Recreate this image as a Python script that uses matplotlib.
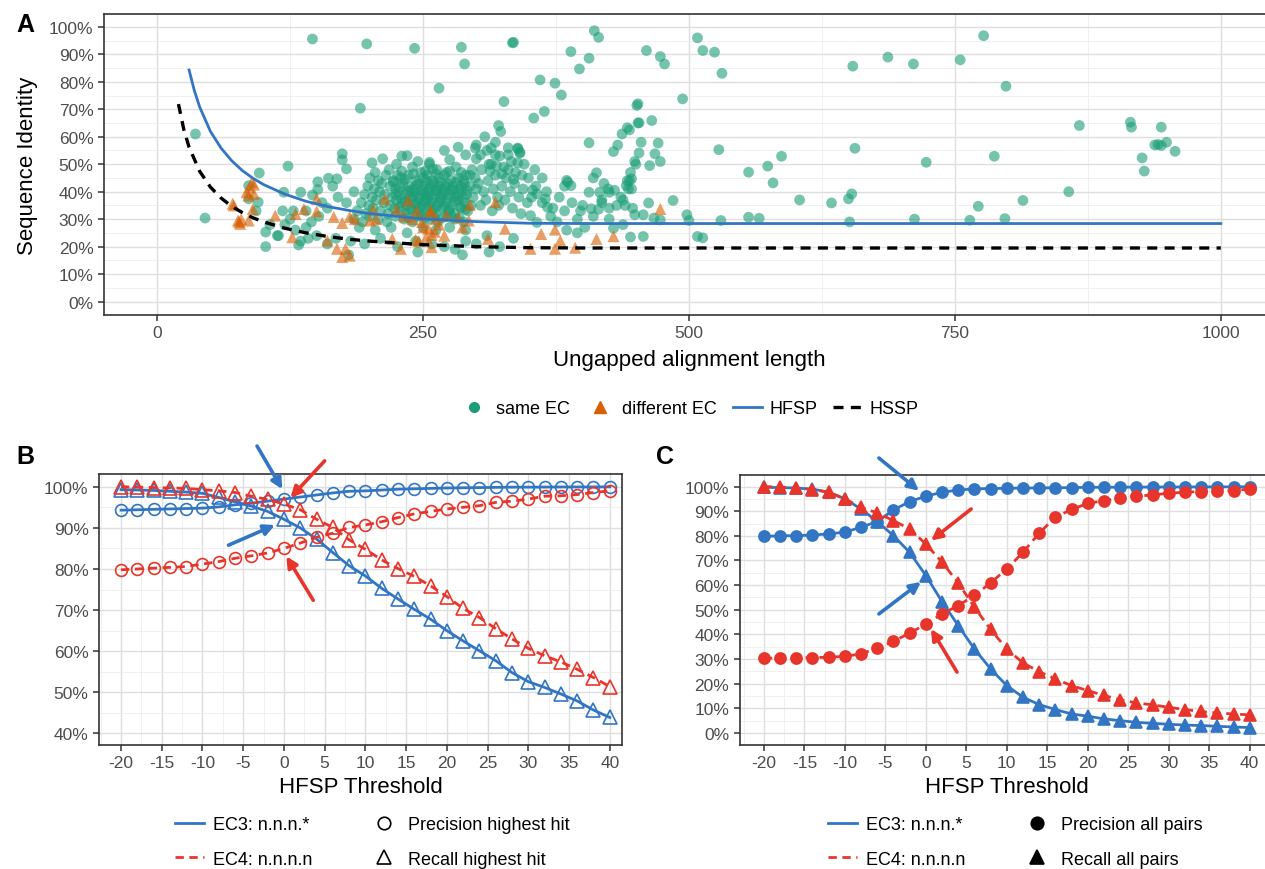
import matplotlib
matplotlib.use("Agg")
import matplotlib.pyplot as plt
from matplotlib.lines import Line2D
from matplotlib.ticker import FuncFormatter, MultipleLocator

plt.rcParams['font.family'] = ['Liberation Sans', 'DejaVu Sans']
plt.rcParams['axes.unicode_minus'] = False

# ---------------- panel A data ----------------
# pairs with the same EC number (alignment length, % identity)
same_ec = [
    # sparse high identity
    (146, 95.6), (197, 93.8), (242, 92.2), (286, 92.6), (289, 86.5), (334, 94.2), (335, 94.4),
    (191, 70.4), (265, 77.7), (326, 72.8), (321, 64.1), (323, 61.9), (354, 66.8), (364, 69.2),
    (360, 80.7), (374, 79.5), (380, 75.2), (389, 91.0), (397, 84.7), (406, 88.6), (411, 98.6),
    (415, 96.2), (406, 57.8), (235, 53.1), (202, 50.5), (283, 56.2), (385, 44.1), (389, 42.2),
    (508, 96.0), (513, 91.4), (524, 90.8), (531, 83.1), (460, 91.4), (473, 89.2), (477, 86.5),
    (494, 73.8), (451, 71.4), (453, 65.1), (465, 65.9), (442, 63.3), (444, 62.5), (471, 57.7),
    (453, 54.1), (468, 53.8), (473, 51.0), (463, 49.5), (449, 51.0), (450, 50.0), (445, 47.0),
    (442, 44.0), (446, 41.0),
    # long alignments
    (528, 55.3), (556, 47.1), (574, 49.3), (579, 43.2), (587, 52.9), (604, 37.0), (634, 35.9),
    (650, 37.4), (653, 39.2), (656, 55.8), (654, 85.7), (687, 89.0), (711, 86.5), (723, 50.7),
    (755, 88.0), (777, 96.8), (798, 78.4), (787, 52.9), (772, 34.7), (814, 36.8), (857, 40.0),
    (867, 64.1), (915, 65.3), (916, 63.5), (944, 63.5), (938, 57.0), (941, 57.2), (944, 56.8),
    (949, 58.0), (957, 54.7), (926, 52.3), (928, 47.5),
    (449, 31.6), (457, 31.6), (467, 30.4), (473, 29.7), (498, 31.6), (500, 29.5), (530, 29.5),
    (556, 30.7), (566, 30.3), (651, 29.0), (712, 30.0), (764, 29.6), (797, 30.2), (457, 23.7),
    (508, 23.7), (513, 23.2), (462, 35.9), (485, 36.8), (438, 37.0), (440, 35.0), (443, 41.0),
    (444, 44.0),
    # 340-450 region
    (413, 46.9), (429, 54.6), (406, 39.8), (416, 39.8), (425, 39.8), (408, 33.8), (415, 33.6),
    (425, 34.0), (441, 42.2), (446, 44.7), (452, 72.0), (452, 65.0), (386, 43.5), (400, 35.0),
    (398, 33.0), (429, 26.7), (445, 23.5), (385, 26.0), (341, 54.4), (339, 55.6), (353, 40.6),
    (357, 39.2), (365, 37.4), (367, 34.3), (351, 31.3), (357, 28.8), (430, 40.5), (436, 38.0),
    (420, 43.0), (433, 57.0), (437, 61.0), (455, 58.0), (418, 36.0), (410, 45.0), (447, 34.0),
    (355, 48.0), (362, 45.0), (370, 31.0), (376, 29.0), (383, 42.0), (390, 36.0), (395, 30.0),
    (402, 27.0), (410, 31.0), (418, 37.0), (424, 41.0), (432, 35.0), (438, 28.0), (383, 33.0),
    (395, 25.0), (425, 30.0),
    # short alignments
    (36, 61.0), (45, 30.4), (96, 46.8), (123, 49.3), (102, 25.3), (102, 20.0), (114, 24.0),
    (86, 37.4), (95, 36.2), (119, 39.8), (133, 20.6), (146, 38.8), (151, 43.6), (151, 40.8),
    (161, 44.9), (169, 44.7), (174, 53.8), (174, 51.6), (178, 48.3), (135, 39.8), (86, 42.2),
    (142, 23.0), (113, 24.0), (165, 42.0), (170, 38.0), (178, 36.0), (185, 40.0), (160, 34.0),
    (152, 31.0), (145, 29.0), (140, 27.0), (130, 26.0), (125, 30.0), (118, 33.0), (106, 28.0),
    (135, 22.0), (150, 24.0), (160, 21.0), (168, 23.0), (93, 33.0), (120, 28.0), (128, 33.0),
    (140, 33.0), (155, 36.0),
    # upper edge of main cluster
    (275, 51.7), (256, 50.7), (259, 48.3), (299, 55.9), (314, 55.9), (339, 55.9), (290, 53.4),
    (304, 53.4), (318, 53.4), (330, 53.4), (230, 53.0), (212, 52.0), (270, 55.0), (225, 50.0),
    (245, 51.0), (318, 58.0), (312, 50.0), (308, 60.0), (300, 57.0),
    # main cluster
    (205, 47), (218, 48), (226, 46), (240, 49), (248, 47), (256, 50), (263, 48), (272, 47),
    (281, 49), (290, 46), (296, 48),
    (200, 45), (208, 44), (215, 46), (222, 44), (229, 45), (236, 46), (243, 44), (250, 45),
    (254, 46), (259, 44), (265, 45), (270, 46), (276, 44), (283, 45), (288, 44), (294, 46), (299, 45),
    (198, 42), (204, 41), (211, 43), (219, 42), (224, 41), (231, 43), (236, 42), (241, 41),
    (246, 43), (251, 42), (255, 41), (260, 43), (264, 42), (268, 41), (273, 43), (278, 42),
    (284, 41), (289, 43), (294, 42), (300, 41),
    (195, 39), (202, 38), (209, 40), (214, 39), (221, 38), (227, 40), (233, 39), (238, 38),
    (242, 40), (247, 39), (252, 38), (256, 40), (261, 39), (266, 38), (270, 40), (275, 39),
    (280, 38), (286, 40), (291, 39), (297, 38),
    (192, 36), (199, 35), (206, 37), (213, 36), (219, 35), (225, 37), (230, 36), (235, 35),
    (240, 37), (245, 36), (249, 35), (254, 37), (258, 36), (263, 35), (267, 37), (272, 36),
    (277, 35), (283, 37), (289, 36), (295, 35),
    (188, 33), (196, 32), (203, 34), (210, 33), (217, 32), (223, 34), (229, 33), (234, 32),
    (239, 34), (244, 33), (249, 32), (253, 34), (258, 33), (262, 32), (268, 34), (274, 33),
    (280, 32), (286, 34), (292, 33),
    (185, 30), (193, 29), (200, 31), (208, 30), (216, 29), (224, 31), (232, 30), (240, 29),
    (248, 31), (256, 30), (264, 29), (272, 31), (280, 30), (288, 29),
    (190, 27), (205, 26), (220, 27), (235, 25), (250, 27), (262, 26), (275, 27), (290, 26),
    (182, 22), (195, 21), (210, 23), (226, 20), (243, 22), (258, 21), (270, 20), (280, 19),
    (290, 22), (300, 21), (310, 24), (322, 20), (335, 23), (180, 17), (245, 18), (287, 17), (312, 18),
    # dense core of the main cluster
    (222, 43.5), (228, 41.5), (233, 44.5), (238, 40.5), (244, 42.5), (249, 40.5), (253, 44.0),
    (257, 42.5), (262, 40.5), (267, 43.5), (271, 42.0), (276, 40.5), (281, 43.5), (286, 42.0),
    (291, 40.5), (224, 39.0), (230, 37.5), (236, 40.0), (241, 38.5), (246, 37.5), (251, 39.5),
    (255, 38.5), (259, 37.5), (263, 40.5), (268, 39.0), (273, 37.5), (278, 40.5), (283, 38.5),
    (288, 37.5), (228, 34.5), (233, 36.5), (238, 33.5), (243, 35.5), (247, 34.0), (252, 36.5),
    (256, 34.5), (260, 33.5), (265, 36.0), (270, 34.5), (275, 33.5), (280, 36.5), (285, 34.5),
    (290, 33.5), (236, 30.5), (244, 31.0), (252, 30.5), (260, 31.0), (268, 30.5), (276, 31.5),
    (284, 30.5), (241, 46.5), (252, 47.5), (262, 46.5), (275, 47.5), (286, 47.0), (230, 47.5),
    # second cluster
    (300, 52), (305, 48), (310, 55), (314, 50), (318, 46), (322, 53), (326, 49), (330, 56),
    (333, 51), (337, 47), (341, 54), (345, 50), (349, 45),
    (302, 43), (307, 40), (311, 44), (316, 41), (320, 38), (324, 42), (328, 45), (332, 40),
    (336, 43), (340, 38), (344, 41), (348, 36),
    (304, 35), (309, 37), (315, 33), (321, 35), (327, 37), (334, 34), (342, 32), (352, 38),
    (356, 42), (362, 36), (366, 40), (372, 34), (378, 38),
    (319, 49.5), (324, 46.5), (330, 48.0), (335, 44.5), (339, 50.5), (343, 46.0), (313, 47.5),
]

# pairs with a different EC number
diff_ec = [
    (89, 43.5), (84, 39.8), (91, 39.2), (72, 35.0), (76, 29.5), (78, 28.3), (86, 29.5), (90, 33.7),
    (111, 31.3), (127, 23.4), (130, 31.9), (138, 33.7), (150, 32.8), (150, 37.4), (160, 22.2),
    (169, 19.2), (177, 19.2), (181, 16.7), (174, 16.2), (166, 30.8), (174, 28.6), (181, 30.8),
    (214, 37.4), (236, 36.8), (257, 32.8), (294, 35.2), (318, 36.2), (272, 31.3), (283, 30.7),
    (244, 32.8), (225, 33.5), (203, 33.5), (250, 27.0), (258, 24.3), (253, 23.4), (243, 22.4),
    (246, 22.0), (293, 29.5), (287, 27.0), (221, 22.8), (229, 19.2), (258, 19.8), (327, 26.5),
    (311, 22.8), (351, 19.2), (361, 24.6), (374, 26.2), (379, 22.2), (374, 19.2), (393, 19.6),
    (413, 22.8), (429, 23.8), (186, 30.0), (200, 29.5), (206, 30.0), (257, 33.0), (255, 26.5),
    (261, 25.4), (249, 29.0), (473, 33.7), (71, 35.6), (79, 30.0), (77, 29.0), (87, 41.5),
    (91, 42.6), (86, 38.6), (265, 28.0), (270, 24.0), (240, 30.0), (232, 31.0), (262, 30.0),
]

# threshold curves
hfsp_len = [30, 35, 40, 50, 60, 70, 80, 90, 100, 120, 140, 160, 180, 200, 250, 300, 350, 400, 450, 1000]
hfsp_pid = [84.3, 76.7, 70.8, 62.0, 55.9, 51.3, 47.7, 44.9, 42.6, 39.1, 36.5, 34.6, 33.2, 32.0,
            30.1, 29.1, 28.5, 28.4, 28.4, 28.4]
hssp_len = [20, 25, 30, 40, 50, 60, 70, 80, 90, 100, 120, 140, 160, 180, 200, 250, 300, 350, 400, 450, 1000]
hssp_pid = [71.9, 62.7, 56.2, 47.4, 41.7, 37.7, 34.7, 32.4, 30.5, 29.0, 26.7, 25.0, 23.7, 22.7,
            22.0, 20.7, 20.0, 19.6, 19.5, 19.5, 19.5]

# ---------------- panels B and C data ----------------
thresholds = [-20, -18, -16, -14, -12, -10, -8, -6, -4, -2, 0, 2, 4, 6, 8, 10, 12, 14, 16, 18,
              20, 22, 24, 26, 28, 30, 32, 34, 36, 38, 40]

b_ec3_prec = [94.3, 94.4, 94.5, 94.6, 94.7, 94.8, 95.1, 95.6, 96.0, 96.5, 97.0, 97.5, 98.0, 98.5,
              98.9, 99.0, 99.2, 99.4, 99.5, 99.6, 99.7, 99.75, 99.8, 99.85, 99.9, 99.9, 99.92,
              99.94, 99.95, 99.96, 99.97]
b_ec3_rec = [99.3, 99.2, 99.1, 98.9, 98.7, 98.4, 97.4, 96.3, 95.3, 94.0, 92.1, 90.0, 87.3, 84.0,
             80.8, 78.3, 75.3, 72.7, 70.2, 67.8, 65.0, 62.5, 60.1, 57.7, 54.8, 52.6, 51.2, 49.6,
             47.9, 45.7, 43.9]
b_ec4_prec = [79.8, 80.0, 80.2, 80.4, 80.6, 81.2, 81.8, 82.6, 83.2, 83.9, 85.0, 86.3, 87.7, 88.7,
              90.1, 90.7, 91.5, 92.5, 93.4, 94.0, 94.6, 95.0, 95.4, 96.2, 96.5, 97.0, 97.7, 97.8,
              98.1, 98.6, 99.0]
b_ec4_rec = [100.0, 99.9, 99.8, 99.7, 99.6, 99.3, 99.0, 98.6, 97.7, 96.9, 95.8, 94.4, 92.1, 90.1,
             87.1, 84.8, 82.2, 80.1, 78.2, 75.9, 73.3, 70.4, 68.2, 65.5, 63.0, 60.7, 58.9, 57.4,
             55.6, 53.6, 51.4]

c_ec3_prec = [79.8, 80.0, 80.1, 80.3, 80.8, 81.5, 83.5, 85.8, 90.5, 93.9, 96.1, 97.7, 98.6, 99.05,
              99.2, 99.3, 99.4, 99.45, 99.5, 99.6, 99.7, 99.72, 99.75, 99.78, 99.8, 99.82, 99.84,
              99.86, 99.88, 99.9, 99.9]
c_ec3_rec = [99.7, 99.6, 99.4, 99.0, 97.7, 95.0, 90.9, 85.8, 80.1, 73.3, 63.9, 53.3, 43.6, 34.1,
             26.0, 19.2, 14.5, 11.5, 9.5, 7.7, 6.8, 5.7, 5.0, 4.3, 3.9, 3.5, 3.2, 3.0, 2.7, 2.4, 2.2]
c_ec4_prec = [30.3, 30.4, 30.5, 30.6, 30.7, 31.1, 32.1, 34.4, 37.2, 40.5, 44.2, 48.3, 51.7, 55.8,
              60.9, 66.6, 73.3, 81.1, 87.6, 90.7, 93.2, 94.3, 95.3, 96.1, 96.6, 97.3, 97.7, 98.0,
              98.1, 98.4, 99.0]
c_ec4_rec = [100.0, 99.8, 99.4, 98.8, 97.7, 95.0, 91.6, 89.3, 86.2, 82.8, 76.7, 69.3, 60.9, 51.0,
             42.0, 34.1, 28.4, 24.9, 21.9, 19.2, 17.2, 15.2, 13.5, 12.2, 11.4, 10.4, 9.5, 8.7, 8.1,
             7.7, 7.3]

GREEN = '#1b9e77'
ORANGE = '#d95f02'
BLUE = '#3276c3'
RED = '#e8352b'
GRID_MAJ = '#dedede'
GRID_MIN = '#ececec'
TICK_COL = '#4d4d4d'

fig = plt.figure(figsize=(12.65, 8.7), dpi=100)
W, H = 1265.0, 870.0


def add_ax(left, top, right, bottom):
    return fig.add_axes([left / W, 1 - bottom / H, (right - left) / W, (bottom - top) / H])


def style(ax):
    for s in ax.spines.values():
        s.set_color('#333333')
        s.set_linewidth(1.2)
    ax.grid(which='major', color=GRID_MAJ, lw=1.0)
    ax.grid(which='minor', color=GRID_MIN, lw=0.6)
    ax.set_axisbelow(True)
    ax.tick_params(which='major', length=4, width=1.1, color='#333333',
                   labelsize=12.5, labelcolor=TICK_COL)
    ax.tick_params(which='minor', length=0)
    ax.yaxis.set_major_formatter(FuncFormatter(lambda v, p: f'{v:.0f}%'))


# ---------------- panel A ----------------
axA = add_ax(104, 15, 1274, 316)
style(axA)
axA.scatter([p[0] for p in same_ec], [p[1] for p in same_ec], s=60, color=GREEN,
            alpha=0.6, edgecolors='none', zorder=2)
axA.scatter([p[0] for p in diff_ec], [p[1] for p in diff_ec], s=75, marker='^', color=ORANGE,
            alpha=0.6, edgecolors='none', zorder=3)
axA.plot(hfsp_len, hfsp_pid, color=BLUE, lw=2.0, zorder=4)
axA.plot(hssp_len, hssp_pid, color='black', lw=2.4, ls=(0, (3, 2.2)), zorder=4)
axA.set_xlim(-50, 1050)
axA.set_ylim(-4.9, 104.7)
axA.set_xticks([0, 250, 500, 750, 1000])
axA.xaxis.set_minor_locator(MultipleLocator(125))
axA.set_yticks(range(0, 101, 10))
axA.yaxis.set_minor_locator(MultipleLocator(5))
axA.set_xlabel('Ungapped alignment length', fontsize=16, labelpad=6)
axA.set_ylabel('Sequence Identity', fontsize=16, labelpad=8)

legA = [
    Line2D([], [], marker='o', ls='none', color=GREEN, markersize=7),
    Line2D([], [], marker='^', ls='none', color=ORANGE, markersize=8),
    Line2D([], [], color=BLUE, lw=2.0),
    Line2D([], [], color='black', lw=2.4, ls=(0, (3, 2.2))),
]
fig.legend(legA, ['same EC', 'different EC', 'HFSP', 'HSSP'], loc='center',
           bbox_to_anchor=(689 / W, 1 - 410 / H), ncol=4, frameon=False, fontsize=13,
           handlelength=1.6, handletextpad=0.4, columnspacing=0.9)


# ---------------- panels B and C ----------------
def perf_panel(ax, ec3_prec, ec3_rec, ec4_prec, ec4_rec, filled):
    style(ax)
    for ys, col, ls, m in [(ec3_prec, BLUE, '-', 'o'), (ec3_rec, BLUE, '-', '^'),
                           (ec4_prec, RED, (0, (3, 2)), 'o'), (ec4_rec, RED, (0, (3, 2)), '^')]:
        size = (8 if m == 'o' else 9) if filled else (8.5 if m == 'o' else 9.5)
        ax.plot(thresholds, ys, color=col, lw=2.0, ls=ls, marker=m, markersize=size,
                markeredgewidth=1.2, markerfacecolor=col if filled else 'none',
                markeredgecolor=col)
    ax.set_xticks(range(-20, 41, 5))
    ax.xaxis.set_minor_locator(MultipleLocator(2.5))
    ax.yaxis.set_minor_locator(MultipleLocator(5))
    ax.set_xlabel('HFSP Threshold', fontsize=16, labelpad=4)


def arrow(ax, start, end, col):
    ax.annotate('', xy=end, xytext=start, annotation_clip=False,
                arrowprops=dict(arrowstyle='-|>', color=col, lw=2.6, mutation_scale=16,
                                shrinkA=0, shrinkB=0), zorder=6)


axB = add_ax(99, 475, 622, 746)
perf_panel(axB, b_ec3_prec, b_ec3_rec, b_ec4_prec, b_ec4_rec, filled=False)
axB.set_xlim(-22.7, 41.5)
axB.set_ylim(37.2, 103.1)
axB.set_yticks(range(40, 101, 10))
arrow(axB, (-3.3, 109.9), (-0.2, 99.4), BLUE)
arrow(axB, (5.0, 106.3), (0.8, 97.3), RED)
arrow(axB, (-6.8, 85.8), (-1.1, 90.7), BLUE)
arrow(axB, (3.6, 72.4), (0.3, 83.1), RED)

axC = add_ax(739.6, 476, 1274, 746)
perf_panel(axC, c_ec3_prec, c_ec3_rec, c_ec4_prec, c_ec4_rec, filled=True)
axC.set_xlim(-23, 43)
axC.set_ylim(-4.9, 104.7)
axC.set_yticks(range(0, 101, 10))
arrow(axC, (-5.8, 111.6), (-0.85, 98.3), BLUE)
arrow(axC, (5.6, 90.9), (0.64, 78.1), RED)
arrow(axC, (-5.8, 48.3), (-0.6, 61.3), BLUE)
arrow(axC, (3.85, 24.7), (0.64, 42.2), RED)


def perf_legend(cx, filled, prec_label, rec_label):
    fc = 'black' if filled else 'none'
    handles = [
        Line2D([], [], color=BLUE, lw=2.0),
        Line2D([], [], color=RED, lw=2.0, ls=(0, (3, 2))),
        Line2D([], [], marker='o', ls='none', markerfacecolor=fc, markeredgecolor='black',
               markersize=9, markeredgewidth=1.2),
        Line2D([], [], marker='^', ls='none', markerfacecolor=fc, markeredgecolor='black',
               markersize=10, markeredgewidth=1.2),
    ]
    fig.legend(handles, ['EC3: n.n.n.*', 'EC4: n.n.n.n', prec_label, rec_label], loc='center',
               bbox_to_anchor=(cx / W, 1 - 843 / H), ncol=2, frameon=False, fontsize=13,
               handlelength=1.6, handletextpad=0.5, columnspacing=3.2, labelspacing=0.95)


perf_legend(372, False, 'Precision highest hit', 'Recall highest hit')
perf_legend(1015, True, 'Precision all pairs', 'Recall all pairs')

for lab, x, y in [('A', 25, 25), ('B', 25, 457), ('C', 665, 457)]:
    fig.text(x / W, 1 - y / H, lab, fontsize=18, fontweight='bold', ha='center', va='center')

fig.savefig('out.png', dpi=100)
